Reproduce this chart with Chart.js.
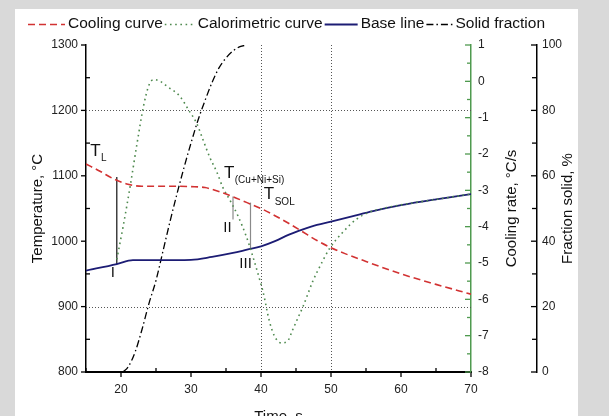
<!DOCTYPE html>
<html><head><meta charset="utf-8">
<script src="https://cdn.jsdelivr.net/npm/chart.js@4.4.1/dist/chart.umd.min.js"></script>
<style>html,body{margin:0;padding:0;background:#d9d9d9;overflow:hidden}#wrap{width:609px;height:416px;position:relative}</style>
</head><body><div id="wrap"><canvas id="c" width="609" height="416"></canvas></div>
<script>
// ---- data ----
const seriesNames = ['Cooling curve', 'Calorimetric curve', 'Base line', 'Solid fraction'];

const coolingTime = [15, 17, 19, 21, 23, 25, 28, 30, 32, 34, 36, 38, 40, 42, 44, 46, 48, 50, 52, 55, 60, 65, 70];
const coolingTemp = [1118, 1107, 1095, 1087, 1084, 1084, 1084, 1083.5, 1082, 1076, 1068, 1059, 1050, 1039, 1027, 1014, 1001, 990, 981, 969, 950, 934, 919];

const caloTime = [19.4, 20.3, 21.3, 22.3, 23.2, 24.0, 24.7, 25.6, 26.6, 28.4, 29.7, 30.8, 31.7, 32.7, 33.7, 34.5, 35.5, 36.7, 37.9, 38.8, 39.8, 40.3, 41.2, 41.9, 42.9, 43.8, 44.5, 45.3, 46.0, 46.7, 47.4, 48.4, 49.8, 51.7, 53.6, 55.5, 57.4, 60, 65, 70];
const caloRate = [-4.9, -4.0, -2.9, -1.7, -0.7, -0.1, 0.05, 0.0, -0.14, -0.41, -0.8, -1.15, -1.6, -2.1, -2.5, -2.9, -3.25, -3.7, -4.27, -4.8, -5.45, -5.8, -6.6, -7.0, -7.2, -7.15, -6.85, -6.5, -6.2, -5.85, -5.5, -5.1, -4.6, -4.15, -3.8, -3.6, -3.5, -3.4, -3.25, -3.1];

const baseTime = [15, 19.4, 21.7, 25, 30, 33, 36, 38, 40, 42, 44, 46, 48, 50, 53, 56, 60, 65, 70];
const baseTemp = [955, 965, 971, 971, 971.5, 976, 982, 987, 992, 1000, 1010, 1018, 1025, 1030, 1038, 1046, 1055, 1064, 1072];

const fracTime = [20.3, 21, 22, 23, 24, 25, 26, 27, 28, 29, 30, 31, 32, 33, 34, 35, 36, 37, 38];
const fracVal = [0, 1.5, 6, 13, 21, 28, 37, 46, 54.5, 62.5, 70, 77, 83, 88.5, 93, 96, 98.2, 99.5, 100];

// characteristic points (vertical markers I, II, III)
const markerTime = [19.4, 36.0, 38.5];
const markerTop = [1098, 1068.5, 1059];
const markerBottom = [965, 1033, 987];
const markerNames = ['I', 'II', 'III'];

// tick labels
const timeTicks = [20, 30, 40, 50, 60, 70];
const tempTicks = [800, 900, 1000, 1100, 1200, 1300];
const rateTicks = [-8, -7, -6, -5, -4, -3, -2, -1, 0, 1];
const fracTicks = [0, 20, 40, 60, 80, 100];

// dotted reference lines
const refTemps = [900, 1200];
const refTimes = [40, 50];

// temperature labels (text, subscript, time, temperature)
const tempLabelText = ['T', 'T', 'T'];
const tempLabelSub = ['L', '(Cu+Ni+Si)', 'SOL'];
const tempLabelTime = [15.6, 34.7, 40.4];
const tempLabelTemp = [1137, 1104, 1071];
// roman label anchors
const romanTime = [18.85, 35.2, 37.8];
const romanTemp = [952, 1021, 966];

// ---- build ----
const FONT = '"Liberation Sans", Arial, Helvetica, sans-serif';
Chart.defaults.font.family = FONT;
Chart.defaults.color = '#111';

const pts = (xs, ys) => xs.map((x, i) => ({x: x, y: ys[i]}));

const styles = [
  {borderColor: '#d23232', borderDash: [7, 4], borderWidth: 1.6},
  {borderColor: '#4f8a4f', borderDash: [1.6, 3.6], borderWidth: 1.6},
  {borderColor: '#1c1c74', borderDash: [], borderWidth: 1.8},
  {borderColor: '#000000', borderDash: [7, 3, 1.5, 3], borderWidth: 1.3}
];

const datasets = [
  Object.assign({label: seriesNames[0], data: pts(coolingTime, coolingTemp), yAxisID: 'y'}, styles[0]),
  Object.assign({label: seriesNames[1], data: pts(caloTime, caloRate), yAxisID: 'yRate'}, styles[1]),
  Object.assign({label: seriesNames[2], data: pts(baseTime, baseTemp), yAxisID: 'y'}, styles[2]),
  Object.assign({label: seriesNames[3], data: pts(fracTime, fracVal), yAxisID: 'yFrac'}, styles[3])
];
markerTime.forEach((t, i) => {
  datasets.push({
    label: 'marker ' + markerNames[i],
    data: [{x: t, y: markerTop[i]}, {x: t, y: markerBottom[i]}],
    yAxisID: 'y',
    borderColor: i === 0 ? '#111' : '#8a8a8a',
    borderWidth: 1.2,
    borderDash: []
  });
});
datasets.forEach(d => { d.pointRadius = 0; d.fill = false; d.cubicInterpolationMode = 'monotone'; });

const setTicks = arr => (s => { s.ticks = arr.map(v => ({value: v})); });
const tickFont = {size: 12, family: FONT};

const deco = {
  id: 'deco',
  beforeDraw(chart) {
    const c = chart.ctx;
    c.save();
    c.fillStyle = '#d9d9d9'; c.fillRect(0, 0, chart.width, chart.height);
    c.fillStyle = '#ffffff'; c.fillRect(15, 9, 563, chart.height - 9);
    c.restore();
  },
  beforeDatasetsDraw(chart) {
    const {ctx: c, chartArea: a, scales: s} = chart;
    c.save();
    c.strokeStyle = '#555'; c.lineWidth = 1; c.setLineDash([1, 2]);
    refTemps.forEach(v => {
      const y = Math.round(s.y.getPixelForValue(v)) + 0.5;
      c.beginPath(); c.moveTo(a.left, y); c.lineTo(a.right, y); c.stroke();
    });
    refTimes.forEach(v => {
      const x = Math.round(s.x.getPixelForValue(v)) + 0.5;
      c.beginPath(); c.moveTo(x, a.top); c.lineTo(x, a.bottom); c.stroke();
    });
    c.restore();
  },
  afterDraw(chart) {
    const {ctx: c, chartArea: a, scales: s} = chart;
    c.save();
    c.lineWidth = 1.3; c.setLineDash([]);
    // left temperature ticks
    c.strokeStyle = '#000';
    for (let v = 800; v <= 1300; v += 50) {
      const y = s.y.getPixelForValue(v);
      const major = tempTicks.includes(v);
      c.beginPath();
      if (major) { c.moveTo(a.left - 5, y); c.lineTo(a.left, y); }
      else { c.moveTo(a.left, y); c.lineTo(a.left + 4, y); }
      c.stroke();
    }
    // bottom time ticks
    for (let v = 15; v <= 70; v += 5) {
      const x = s.x.getPixelForValue(v);
      const major = timeTicks.includes(v);
      c.beginPath();
      if (major) { c.moveTo(x, a.bottom); c.lineTo(x, a.bottom + 5); }
      else { c.moveTo(x, a.bottom); c.lineTo(x, a.bottom - 4); }
      c.stroke();
    }
    // cooling-rate ticks (green, inward)
    c.strokeStyle = '#4f9a4f';
    const rx = s.yRate.left;
    for (let v = -8; v <= 1; v += 0.5) {
      const y = s.yRate.getPixelForValue(v);
      const major = rateTicks.includes(v);
      c.beginPath(); c.moveTo(rx - (major ? 6 : 4), y); c.lineTo(rx, y); c.stroke();
    }
    // fraction ticks (inward)
    c.strokeStyle = '#000';
    const fx = s.yFrac.left;
    for (let v = 0; v <= 100; v += 10) {
      const y = s.yFrac.getPixelForValue(v);
      const major = fracTicks.includes(v);
      c.beginPath(); c.moveTo(fx - (major ? 6 : 5), y); c.lineTo(fx, y); c.stroke();
    }
    // right axis titles (reading bottom to top)
    c.fillStyle = '#111';
    c.font = '15px ' + FONT;
    c.textAlign = 'center'; c.textBaseline = 'middle';
    const midY = (a.top + a.bottom) / 2;
    [[s.yRate.left + 41, 'Cooling rate, °C/s'], [s.yFrac.left + 31, 'Fraction solid, %']].forEach(([x, t]) => {
      c.save(); c.translate(x, midY); c.rotate(-Math.PI / 2); c.fillText(t, 0, 0); c.restore();
    });
    // legend
    const sampleLen = [37, 30, 33, 26];
    let lx = 28; const ly = 24;
    c.font = '15.5px ' + FONT; c.textAlign = 'left'; c.textBaseline = 'middle';
    seriesNames.forEach((name, i) => {
      const st = styles[i];
      c.save();
      c.strokeStyle = st.borderColor; c.lineWidth = st.borderWidth; c.setLineDash(st.borderDash);
      c.beginPath(); c.moveTo(lx, ly + 0.5); c.lineTo(lx + sampleLen[i], ly + 0.5); c.stroke();
      c.restore();
      lx += sampleLen[i] + 3;
      c.fillStyle = '#111';
      c.fillText(name, lx, ly);
      lx += c.measureText(name).width + 2;
    });
    // temperature labels with subscripts
    tempLabelText.forEach((t, i) => {
      const x = s.x.getPixelForValue(tempLabelTime[i]);
      const y = s.y.getPixelForValue(tempLabelTemp[i]);
      c.font = '17px ' + FONT; c.textAlign = 'left'; c.textBaseline = 'middle';
      c.fillText(t, x, y);
      const w = c.measureText(t).width;
      c.font = '10px ' + FONT;
      c.fillText(tempLabelSub[i], x + w + 0.5, y + 7);
    });
    // roman numerals
    c.font = '15px ' + FONT; c.textAlign = 'center'; c.textBaseline = 'middle';
    markerNames.forEach((n, i) => {
      c.fillText(n, s.x.getPixelForValue(romanTime[i]), s.y.getPixelForValue(romanTemp[i]));
    });
    c.restore();
  }
};

new Chart(document.getElementById('c'), {
  type: 'line',
  data: {datasets: datasets},
  options: {
    responsive: false,
    devicePixelRatio: 1,
    animation: false,
    layout: {padding: {top: 45, left: 0, right: 0, bottom: 0}},
    plugins: {legend: {display: false}, tooltip: {enabled: false}},
    elements: {line: {tension: 0}},
    scales: {
      x: {
        type: 'linear', position: 'bottom', min: 15, max: 70,
        afterBuildTicks: setTicks(timeTicks),
        afterFit: sc => { sc.height = 44; },
        ticks: {padding: 10, font: tickFont, color: '#222', maxRotation: 0, autoSkip: false, callback: v => String(v)},
        grid: {display: false, drawTicks: false},
        border: {display: true, color: '#000', width: 2},
        title: {display: true, text: 'Time, s', color: '#111', font: {size: 15, lineHeight: 1}, padding: {top: 0, bottom: -8}}
      },
      y: {
        type: 'linear', position: 'left', min: 800, max: 1300,
        afterBuildTicks: setTicks(tempTicks),
        afterFit: sc => { sc.width = 86; },
        ticks: {padding: 8, font: tickFont, color: '#222', callback: v => String(v)},
        grid: {display: false, drawTicks: false},
        border: {display: true, color: '#000', width: 1.5},
        title: {display: true, text: 'Temperature, °C', color: '#111', font: {size: 15}, padding: {top: 29, bottom: 0}}
      },
      yRate: {
        type: 'linear', position: 'right', min: -8, max: 1,
        afterBuildTicks: setTicks(rateTicks),
        afterFit: sc => { sc.width = 66; },
        ticks: {padding: 7, font: tickFont, color: '#222', callback: v => String(v)},
        grid: {display: false, drawTicks: false},
        border: {display: true, color: '#4f9a4f', width: 1.5}
      },
      yFrac: {
        type: 'linear', position: 'right', min: 0, max: 100,
        afterBuildTicks: setTicks(fracTicks),
        afterFit: sc => { sc.width = 72; },
        ticks: {padding: 5, font: tickFont, color: '#222', callback: v => String(v)},
        grid: {display: false, drawTicks: false},
        border: {display: true, color: '#000', width: 1.5}
      }
    }
  },
  plugins: [deco]
});
</script>
</body></html>
